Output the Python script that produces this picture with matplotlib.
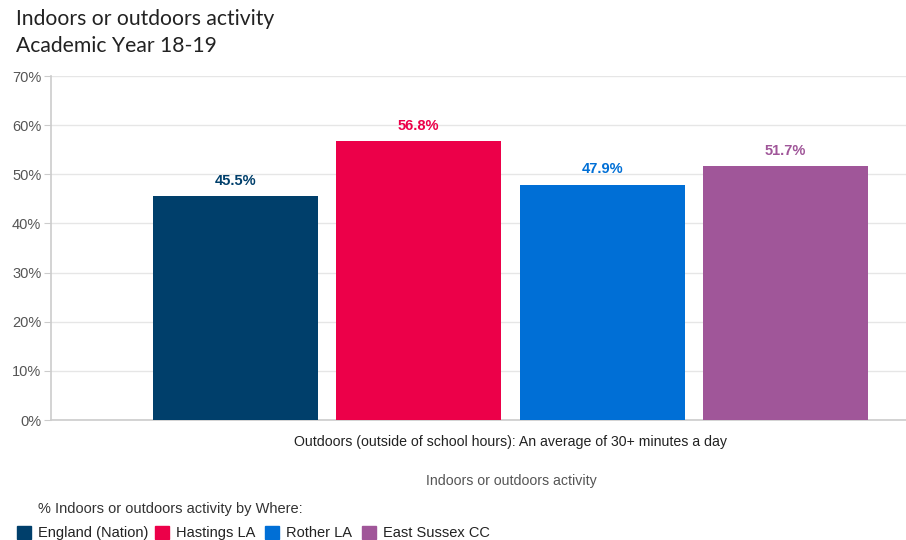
import matplotlib
matplotlib.use("Agg")
import matplotlib.pyplot as plt
from matplotlib.patches import Rectangle

series = ["England (Nation)", "Hastings LA", "Rother LA", "East Sussex CC"]
values = [45.5, 56.8, 47.9, 51.7]
colors = ["#003f6b", "#ec0049", "#006fd6", "#a05699"]
category = "Outdoors (outside of school hours): An average of 30+ minutes a day"
yticks = [0, 10, 20, 30, 40, 50, 60, 70]

W, H = 906, 540
fig = plt.figure(figsize=(W / 100, H / 100), dpi=100)

ax_left, ax_right, ax_top, ax_bot = 51, 906, 76, 420
ax = fig.add_axes([ax_left / W, 1 - ax_bot / H, (ax_right - ax_left) / W, (ax_bot - ax_top) / H])

step = 183.5
width = 165 / step
positions = list(range(len(values)))
bars = ax.bar(positions, values, width=width, color=colors, zorder=3)
for b, v, c in zip(bars, values, colors):
    ax.annotate(f"{v:.1f}%", (b.get_x() + b.get_width() / 2, v), xytext=(0, 6),
                textcoords="offset points", ha="center", va="bottom",
                color=c, fontweight="bold", fontsize=10.5, family="Liberation Sans")

x0 = -(235.5 - ax_left) / step
x1 = 3 + (ax_right - 785.5) / step
ax.set_xlim(x0, x1)
ax.set_ylim(0, 70)
ax.set_yticks(yticks)
ax.set_yticklabels([f"{t}%" for t in yticks], color="#555555", fontsize=10.5, family="Liberation Sans")
ax.tick_params(axis="y", length=5, color="#cccccc", pad=2)
ax.set_xticks([])
ax.grid(axis="y", color="#e6e6e6", linewidth=1, zorder=0)
for s in ["top", "right"]:
    ax.spines[s].set_visible(False)
ax.spines["left"].set_color("#cccccc")
ax.spines["bottom"].set_color("#cccccc")
ax.spines["left"].set_linewidth(1.2)
ax.spines["bottom"].set_linewidth(1.2)

# category label and axis title
fig.text(511 / W, 1 - 442 / H, category, ha="center", va="center", fontsize=10.2,
         color="#222222", family="Liberation Sans")
fig.text(511 / W, 1 - 481 / H, "Indoors or outdoors activity", ha="center", va="center",
         fontsize=10.2, color="#555555", family="Liberation Sans")

# titles
fig.text(16 / W, 1 - 19 / H, "Indoors or outdoors activity", ha="left", va="center",
         fontsize=15.2, color="#222222", family="Lato")
fig.text(16 / W, 1 - 46 / H, "Academic Year 18-19", ha="left", va="center",
         fontsize=15.2, color="#222222", family="Lato")

# legend
fig.text(38 / W, 1 - 509 / H, "% Indoors or outdoors activity by Where:", ha="left", va="center",
         fontsize=10.5, color="#333333", family="Liberation Sans")
leg_x = [17, 155, 265, 362]
for lx, name, c in zip(leg_x, series, colors):
    fig.patches.append(Rectangle((lx / W, 1 - 539 / H), 14 / W, 13 / H,
                                 transform=fig.transFigure, color=c))
    fig.text((lx + 21) / W, 1 - 533 / H, name, ha="left", va="center",
             fontsize=10.5, color="#222222", family="Liberation Sans")

fig.savefig("out.png", dpi=100)
